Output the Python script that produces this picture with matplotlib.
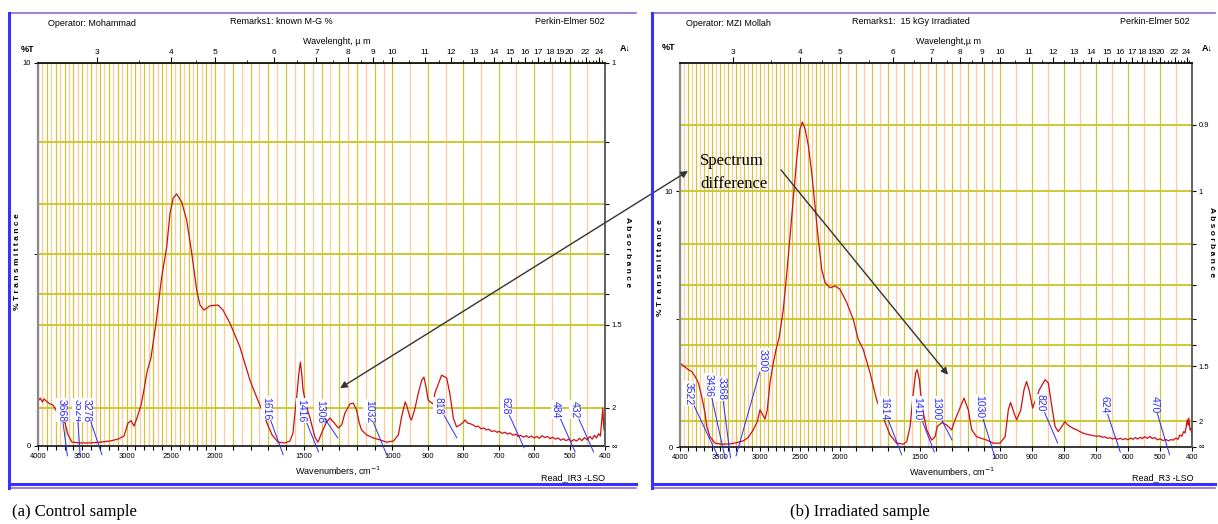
import numpy as np
import matplotlib.pyplot as plt
from matplotlib.lines import Line2D
from matplotlib.patches import ConnectionPatch

plt.rcParams['font.family'] = ['Liberation Sans', 'DejaVu Sans']

# ---- control sample spectrum (wavenumber cm-1, %T) ----
ctrl_wn = [4000, 3975, 3950, 3932, 3910, 3890, 3865, 3831, 3797, 3752, 3695, 3661, 3616, 3526,
           3413, 3300, 3187, 3097, 3029, 2984, 2950, 2916, 2883, 2837, 2804, 2770, 2725, 2668,
           2604, 2547, 2510, 2473, 2435, 2378, 2322, 2265, 2209, 2171, 2126, 2059, 1984, 1956,
           1917, 1860, 1804, 1764, 1736, 1708, 1679, 1645, 1606, 1578, 1561, 1550, 1538, 1527,
           1519, 1510, 1504, 1487, 1465, 1437, 1420, 1392, 1371, 1352, 1333, 1305, 1286, 1268,
           1239, 1221, 1202, 1187, 1174, 1145, 1108, 1070, 1032, 997, 983, 974, 964, 960, 950,
           946, 936, 927, 917, 911, 905, 899, 889, 885, 880, 861, 847, 838, 828, 819, 809, 800,
           795, 788, 780, 772, 765, 758, 750, 742, 735, 728, 720, 712, 705, 698, 690, 682, 675,
           668, 660, 652, 645, 638, 630, 622, 615, 608, 600, 592, 585, 578, 570, 562, 555, 548,
           540, 532, 525, 518, 510, 502, 495, 488, 480, 472, 465, 458, 450, 443, 436, 430, 424,
           418, 413, 409, 406, 404, 402, 400]
ctrl_t = [1.17, 1.25, 1.15, 1.23, 1.18, 1.14, 1.10, 1.07, 0.94, 0.73, 0.60, 0.29, 0.10, 0.08,
          0.08, 0.10, 0.13, 0.18, 0.26, 0.60, 0.66, 0.52, 0.73, 1.07, 1.46, 1.93, 2.30, 3.21,
          4.41, 5.20, 6.08, 6.48, 6.58, 6.37, 5.90, 5.04, 4.07, 3.68, 3.55, 3.66, 3.68, 3.55,
          3.21, 2.58, 1.72, 1.25, 0.94, 0.60, 0.29, 0.10, 0.08, 0.13, 0.34, 0.86, 1.38, 1.93,
          2.19, 1.80, 1.46, 1.07, 0.73, 0.23, 0.10, 0.42, 0.63, 0.73, 0.63, 0.47, 0.55, 0.86,
          1.10, 1.12, 0.94, 0.60, 0.42, 0.29, 0.21, 0.16, 0.10, 0.13, 0.29, 0.76, 1.15, 1.07, 0.73,
          0.68, 0.99, 1.38, 1.72, 1.80, 1.54, 1.20, 1.12, 1.10, 1.38, 1.85, 1.78, 1.38, 0.73, 0.50,
          0.55, 0.62, 0.68, 0.60, 0.58, 0.55, 0.50, 0.52, 0.45, 0.47, 0.42, 0.44, 0.38, 0.40, 0.36,
          0.38, 0.33, 0.36, 0.31, 0.34, 0.28, 0.31, 0.25, 0.28, 0.23, 0.27, 0.22, 0.26, 0.21, 0.25,
          0.20, 0.27, 0.22, 0.25, 0.19, 0.23, 0.18, 0.21, 0.15, 0.19, 0.14, 0.18, 0.12, 0.17, 0.13,
          0.20, 0.14, 0.22, 0.16, 0.25, 0.18, 0.28, 0.21, 0.32, 0.26, 0.68, 0.99, 0.55, 0.40, 0.45]

# ---- irradiated sample spectrum ----
irr_wn = [4000, 3959, 3896, 3854, 3812, 3771, 3729, 3687, 3666, 3625, 3562, 3479, 3375, 3291,
          3209, 3146, 3084, 3034, 3000, 2937, 2909, 2875, 2834, 2800, 2759, 2709, 2666, 2625,
          2584, 2541, 2500, 2471, 2437, 2396, 2354, 2312, 2271, 2229, 2187, 2125, 2062, 2000,
          1958, 1917, 1886, 1854, 1812, 1771, 1729, 1687, 1646, 1604, 1583, 1562, 1542, 1527,
          1517, 1504, 1496, 1483, 1458, 1427, 1406, 1392, 1364, 1333, 1302, 1281, 1260, 1225,
          1198, 1177, 1146, 1083, 1042, 1000, 984, 974, 967, 956, 948, 935, 925, 917, 908, 898,
          877, 859, 849, 838, 828, 818, 807, 797, 790, 781, 770, 760, 750, 740, 730, 719, 710,
          700, 688, 680, 672, 665, 656, 648, 640, 632, 624, 615, 608, 600, 592, 585, 577, 570,
          562, 555, 548, 540, 531, 524, 516, 508, 500, 490, 482, 474, 466, 458, 450, 444, 438,
          432, 426, 422, 418, 415, 412, 410, 408, 406, 403, 400]
irr_t = [3.28, 3.18, 3.02, 2.95, 2.76, 2.51, 1.97, 1.33, 0.80, 0.40, 0.15, 0.11, 0.12, 0.17,
         0.24, 0.38, 0.67, 0.99, 1.45, 1.09, 1.45, 2.51, 3.28, 3.80, 4.30, 5.37, 6.75, 8.20,
         9.69, 11.25, 12.43, 12.69, 12.43, 11.78, 10.73, 9.42, 8.12, 6.94, 6.42, 6.22, 6.29, 6.16,
         5.64, 4.98, 4.20, 3.80, 2.89, 1.84, 1.13, 0.47, 0.15, 0.11, 0.21, 0.80, 2.11, 2.89,
         3.02, 2.63, 2.11, 1.45, 0.67, 0.27, 0.40, 0.80, 0.95, 0.86, 0.67, 1.06, 1.38, 1.91,
         1.45, 0.67, 0.40, 0.27, 0.15, 0.15, 0.40, 1.45, 1.74, 1.32, 1.06, 1.45, 2.24, 2.56, 2.17,
         1.52, 2.24, 2.63, 2.50, 1.58, 0.80, 0.60, 0.80, 0.99, 0.88, 0.80, 0.72, 0.67, 0.60, 0.54,
         0.50, 0.47, 0.45, 0.42, 0.43, 0.38, 0.40, 0.34, 0.36, 0.31, 0.35, 0.30, 0.34, 0.29, 0.33,
         0.28, 0.35, 0.30, 0.37, 0.31, 0.38, 0.33, 0.40, 0.34, 0.41, 0.33, 0.37, 0.28, 0.32, 0.25,
         0.30, 0.24, 0.29, 0.27, 0.35, 0.30, 0.47, 0.42, 0.60, 0.55, 0.80, 1.06, 0.85, 1.13, 0.90,
         0.67, 0.72, 0.40]

ctrl_peaks = [3668, 3524, 3278, 1616, 1416, 1308, 1032, 818, 628, 484, 432]
irr_peaks = [3522, 3436, 3368, 3300, 1614, 1410, 1300, 1030, 820, 624, 470]

# label layout: leader end (%T) and text offset (px)
ctrl_lbl_end = [-0.26, -0.26, -0.23, -0.23, -0.16, 0.21, -0.23, 0.21, -0.05, -0.16, -0.16]
ctrl_lbl_off = [(-6, 34), (-3, 34), (-15, 33), (-17, 35), (-17, 30), (-18, 15), (-18, 32),
                (-18, 23), (-19, 33), (-19, 34), (-19, 34)]
irr_lbl_end = [-0.39, -0.43, -0.43, -0.35, -0.31, -0.20, 0.27, -0.43, 0.16, -0.20, -0.31]
irr_lbl_off = [(-30, 52), (-16, 61), (-9, 58), (27, 84), (-18, 35), (-17, 32), (-16, 20),
               (-16, 40), (-17, 31), (-16, 39), (-15, 42)]

um_major = [3, 4, 5, 6, 7, 8, 9, 10, 11, 12, 13, 14, 15, 16, 17, 18, 19, 20, 22, 24]
um_minor = [3.5, 4.5, 5.5, 6.5, 7.5, 8.5, 9.5, 10.5, 11.5, 12.5, 13.5, 14.5, 15.5, 16.5,
            17.5, 18.5, 19.5, 20.5, 21, 21.5, 22.5, 23, 23.5, 24.5]
bottom_lbl = [4000, 3500, 3000, 2500, 2000, 1500, 1000, 900, 800, 700, 600, 500, 400]

OLIVE = '#cdc832'
PEACH = '#ffcb9e'
BLUE = '#2b2bff'
W, H = 1218, 524


# Perkin-Elmer style piecewise wavenumber axis (scale doubles below 2000 and 1000)
def fwd(w):
    w = np.asarray(w, dtype=float)
    return np.where(w >= 2000, w, np.where(w >= 1000, 2 * w - 2000, 4 * w - 4000))


def inv(y):
    y = np.asarray(y, dtype=float)
    return np.where(y >= 2000, y, np.where(y >= 0, (y + 2000) / 2, y / 4 + 1000))


fig = plt.figure(figsize=(W / 100, H / 100), dpi=100)


def box(l, t, r, b):
    return [l / W, 1 - b / H, (r - l) / W, (b - t) / H]


def ftext(x, y, s, **kw):
    kw.setdefault('fontsize', 6.5)
    kw.setdefault('va', 'center')
    fig.text(x / W, 1 - y / H, s, **kw)


def hline(x0, x1, y, **kw):
    fig.add_artist(Line2D([x0 / W, x1 / W], [1 - y / H, 1 - y / H], transform=fig.transFigure, **kw))


def vline(x, y0, y1, **kw):
    fig.add_artist(Line2D([x / W, x / W], [1 - y0 / H, 1 - y1 / H], transform=fig.transFigure, **kw))


def panel(rect, wn, tr, tmax, absorb, absorb_lbl, peaks, lbl_end, lbl_off):
    ax = fig.add_axes(rect)
    ax.set_xscale('function', functions=(fwd, inv))
    ax.set_xlim(4000, 400)
    ax.set_ylim(0, tmax)

    xt = np.arange(4000, 399, -100)
    ax.set_xticks(xt)
    ax.set_xticklabels([str(v) if v in bottom_lbl else '' for v in xt])
    ax.set_xticks(np.arange(3950, 400, -100), minor=True)
    ax.tick_params(axis='x', which='major', length=3, labelsize=5.5, pad=2)
    ax.tick_params(axis='x', which='minor', length=0)
    ax.set_yticks([0, 10])
    ax.set_yticklabels(['0', '10'])
    ax.set_yticks([5], minor=True)
    ax.tick_params(axis='y', which='both', length=3, labelsize=5.5, pad=2)

    ax.set_axisbelow(True)
    ax.grid(axis='x', which='major', color=OLIVE, lw=0.9)
    ax.grid(axis='x', which='minor', color=PEACH, lw=0.9)
    for a in absorb:
        ax.axhline(10 ** (2 - a), color=OLIVE, lw=1.4, zorder=1)

    ax.plot(wn, tr, color='#d01010', lw=0.9, zorder=2)

    for p, e, (dx, dy) in zip(peaks, lbl_end, lbl_off):
        ax.annotate(str(p), xy=(p, e), xytext=(dx, dy), textcoords='offset pixels',
                    rotation=-90, ha='center', va='bottom', color=BLUE, fontsize=7.5,
                    bbox=dict(fc='white', ec='none', pad=0.4),
                    arrowprops=dict(arrowstyle='-', color=BLUE, lw=0.7, shrinkA=0, shrinkB=0),
                    annotation_clip=False, zorder=4)

    ax.spines['left'].set_color('#8a8a8a')
    ax.spines['left'].set_linewidth(1.6)
    ax.spines['bottom'].set_linewidth(1.1)
    ax.spines['top'].set_visible(False)
    ax.spines['right'].set_visible(False)

    # absorbance axis on the right
    axr = ax.twinx()
    axr.set_ylim(0, tmax)
    axr.set_yticks([10 ** (2 - a) for a in absorb] + [0])
    axr.set_yticklabels(absorb_lbl + ['\u221e'])
    axr.tick_params(axis='y', length=3, labelsize=5.5, pad=2)
    for s in ['left', 'top', 'bottom']:
        axr.spines[s].set_visible(False)
    axr.spines['right'].set_color('#555555')
    axr.spines['right'].set_linewidth(1.3)

    # wavelength axis on top
    axt = ax.twiny()
    axt.set_xscale('function', functions=(fwd, inv))
    axt.set_xlim(4000, 400)
    axt.set_xticks([1e4 / u for u in um_major])
    axt.set_xticklabels([str(u) for u in um_major])
    axt.set_xticks([1e4 / u for u in um_minor], minor=True)
    axt.tick_params(axis='x', which='major', length=4, labelsize=6, pad=1)
    axt.tick_params(axis='x', which='minor', length=2)
    for s in ['left', 'right', 'bottom']:
        axt.spines[s].set_visible(False)
    axt.spines['top'].set_linewidth(1.2)
    return ax


ax1 = panel(box(38, 63, 605, 446), ctrl_wn, ctrl_t, 10,
            [1.0, 1.1, 1.2, 1.3, 1.4, 1.5, 2.0], ['1', '', '', '', '', '1.5', '2'],
            ctrl_peaks, ctrl_lbl_end, ctrl_lbl_off)
ax2 = panel(box(680, 63, 1192, 447), irr_wn, irr_t, 15,
            [0.9, 1.0, 1.1, 1.2, 1.3, 1.4, 1.5, 2.0], ['0.9', '1', '', '', '', '', '1.5', '2'],
            irr_peaks, irr_lbl_end, irr_lbl_off)

# window frames
for l, r in [(9, 636), (652, 1215)]:
    hline(l, r, 13, color='#9966cc', lw=1.2)
    hline(l, r, 484, color='#3333ff', lw=2.2)
    hline(l, r, 488, color='#9966cc', lw=1.2)
    vline(l, 13, 488, color='#3333ff', lw=2.2)

# header / footer texts, control
ftext(48, 24, 'Operator: Mohammad')
ftext(230, 22, 'Remarks1: known M-G %')
ftext(605, 22, 'Perkin-Elmer 502', ha='right')
ftext(337, 41, 'Wavelenght, \u00b5 m', ha='center')
ftext(21, 50, '%T', weight='bold')
ftext(620, 48, 'A\u2193', weight='bold')
ftext(18, 262, '% T r a n s m i t t a n c e', rotation=90, ha='center', weight='bold', fontsize=6)
ftext(628, 252, 'A b s o r b a n c e', rotation=-90, ha='center', weight='bold', fontsize=6)
ftext(338, 471, 'Wavenumbers, cm$^{-1}$', ha='center')
ftext(605, 478, 'Read_IR3 -LSO', ha='right')
ftext(12, 512, '(a) Control sample', family='Liberation Serif', fontsize=12)

# header / footer texts, irradiated
ftext(686, 24, 'Operator: MZI Mollah')
ftext(852, 22, 'Remarks1:  15 kGy Irradiated')
ftext(1190, 22, 'Perkin-Elmer 502', ha='right')
ftext(948, 42, 'Wavelenght,\u00b5 m', ha='center')
ftext(662, 48, '%T', weight='bold')
ftext(1202, 48, 'A\u2193', weight='bold')
ftext(660, 268, '% T r a n s m i t t a n c e', rotation=90, ha='center', weight='bold', fontsize=6)
ftext(1212, 242, 'A b s o r b a n c e', rotation=-90, ha='center', weight='bold', fontsize=6)
ftext(952, 472, 'Wavenumbers, cm$^{-1}$', ha='center')
ftext(1193, 478, 'Read_R3 -LSO', ha='right')
ftext(790, 512, '(b) Irradiated sample', family='Liberation Serif', fontsize=12)

# "spectrum difference" arrows
con = ConnectionPatch(xyA=(1295, 1.51), coordsA='data', axesA=ax1,
                      xyB=(3900, 10.78), coordsB='data', axesB=ax2,
                      arrowstyle='<|-|>', color='#333333', lw=1, mutation_scale=10)
fig.add_artist(con)
ax2.annotate('', xy=(1325, 2.82), xytext=(2737, 10.82),
             arrowprops=dict(arrowstyle='-|>', color='#333333', lw=1, mutation_scale=10,
                             shrinkA=0, shrinkB=0), zorder=5)
ax2.text(3750, 11.5, 'Spectrum\ndifference', family='Liberation Serif', fontsize=12,
         va='top', ha='left', linespacing=1.65, zorder=5)

fig.savefig('out.png', dpi=100)
